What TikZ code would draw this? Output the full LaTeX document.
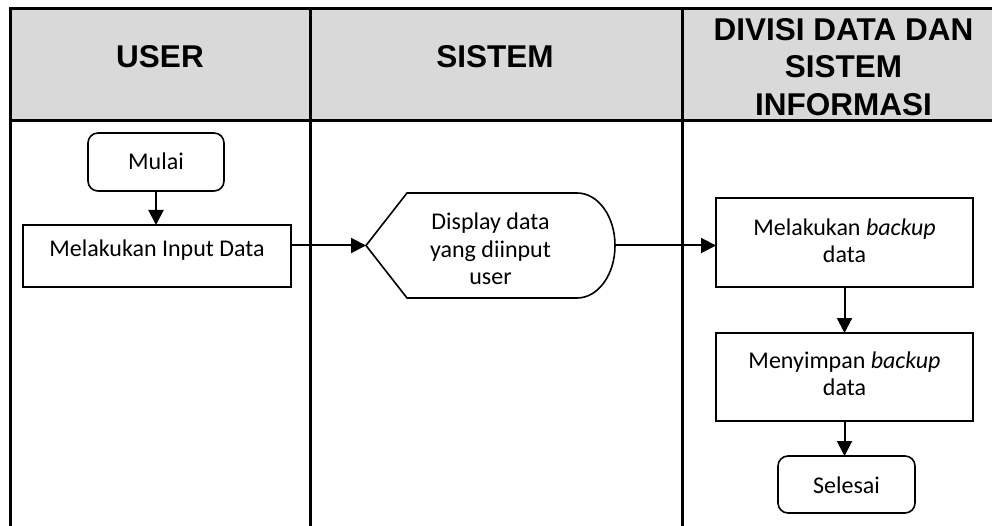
\documentclass[tikz,border=0pt]{standalone}
\usepackage{fontspec}
\setmainfont{Carlito}
\newfontfamily\arialfont{Liberation Sans}
\usetikzlibrary{arrows.meta,calc}
\newcommand\boxtext[2]{\raisebox{#1}[0pt][0pt]{\begin{tabular}[t]{@{}c@{}}#2\end{tabular}}}
\definecolor{hdrgray}{HTML}{D9D9D9}
\begin{document}
\begin{tikzpicture}[x=1pt,y=-1pt,
  lane/.style={line width=3pt},
  box/.style={draw, line width=1.6pt, inner sep=0pt, outer sep=0pt, font=\fontsize{24}{27}\selectfont},
  term/.style={box, rounded corners=10pt},
  flow/.style={line width=2pt, -{Triangle[length=15pt,width=15pt]}},
  hdr/.style={font=\arialfont\bfseries\fontsize{31.5}{37.5}\selectfont, inner sep=0pt, anchor=base}]
\useasboundingbox (0,0) rectangle (992,526);
% header band and lanes
\fill[hdrgray] (10,8.5) rectangle (995,120.5);
\draw[lane] (10,530) -- (10,8.5) -- (995,8.5);
\draw[lane] (10,120.5) -- (995,120.5);
\draw[lane] (310,8.5) -- (310,530);
\draw[lane] (682,8.5) -- (682,530);
% header texts
\node[hdr] (huser) at (160,67.5) {USER};
\node[hdr] (hsis) at (495,67.5) {SISTEM};
\node[hdr] (hdiv) at (843.5,40.5) {\begin{tabular}[t]{@{}c@{}}DIVISI DATA DAN\\SISTEM\\INFORMASI\end{tabular}};
% nodes
\node[term, minimum width=136pt, minimum height=58pt] (mulai) at (156,162) {\boxtext{-8pt}{Mulai}};
\node[box, minimum width=268pt, minimum height=62pt] (input) at (157,256) {\boxtext{-0.7pt}{Melakukan Input Data}};
\node[box, draw=none, minimum width=249pt, minimum height=105pt, font=\fontsize{24}{27.8}\selectfont] (disp) at (490.5,245.5) {\boxtext{16.2pt}{Display data\\yang diinput\\user}};
\draw[line width=1.6pt] (disp.west) -- ($(disp.north west)+(41,0)$) -- ($(disp.north east)+(-38,0)$)
  .. controls +(21,0) and +(0,-29.3) .. (disp.east)
  .. controls +(0,29.3) and +(21,0) .. ($(disp.south east)+(-38,0)$)
  -- ($(disp.south west)+(41,0)$) -- cycle;
\node[box, minimum width=257pt, minimum height=89pt] (mb) at (844.5,242.5) {\boxtext{6.5pt}{Melakukan \textit{backup}\\data}};
\node[box, minimum width=257pt, minimum height=88pt] (ms) at (844.5,377) {\boxtext{9pt}{Menyimpan \textit{backup}\\data}};
\node[term, minimum width=137pt, minimum height=57pt] (sel) at (846.5,484.5) {\boxtext{-8.8pt}{Selesai}};
% connectors
\draw[flow] (mulai.south) -- (mulai.south |- input.north);
\draw[flow] (disp.west -| input.east) -- (disp.west);
\draw[flow] (disp.east) -- (disp.east -| mb.west);
\draw[flow] (mb.south) -- (ms.north);
\draw[flow] (ms.south) -- (ms.south |- sel.north);
\end{tikzpicture}
\end{document}
